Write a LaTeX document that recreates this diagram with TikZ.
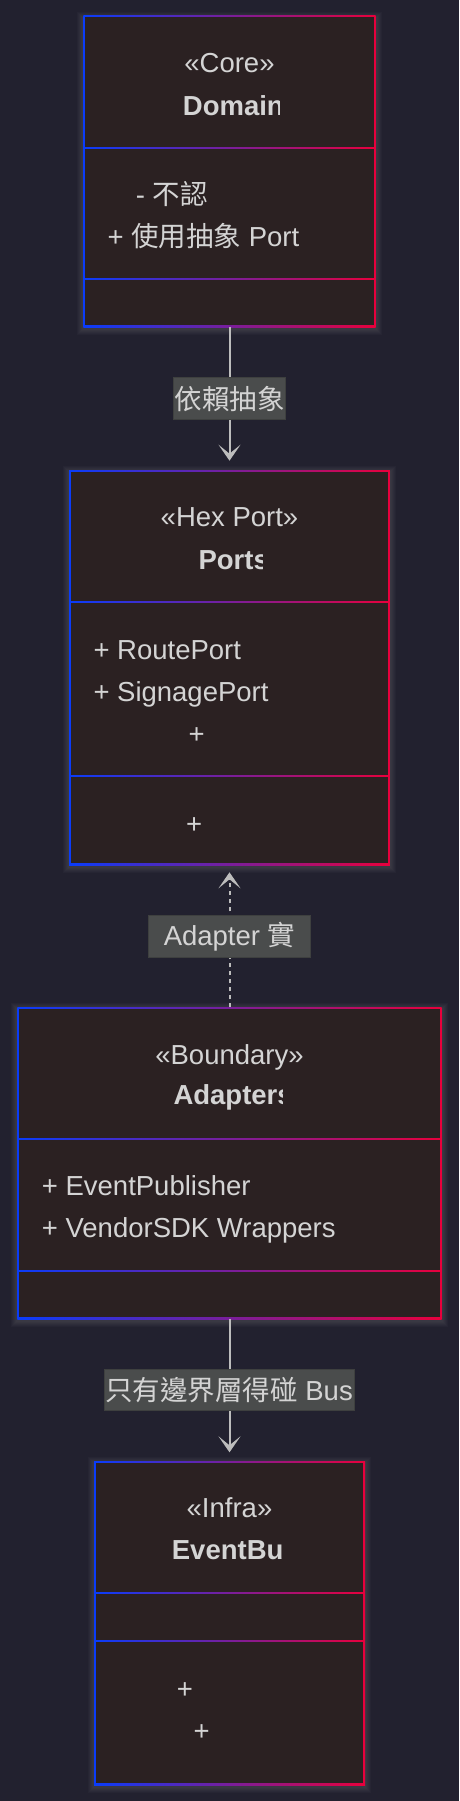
\documentclass[tikz,border=0pt]{standalone}
\usepackage{fontspec}
\setmainfont{Liberation Sans}
\newfontfamily\cjk{Noto Sans CJK TC}
\usetikzlibrary{arrows.meta}
\definecolor{bgc}{HTML}{22212F}
\definecolor{boxfill}{HTML}{2B2122}
\definecolor{cblue}{HTML}{0A3CFA}
\definecolor{cred}{HTML}{E8003C}
\definecolor{txtc}{HTML}{D4D4D4}
\definecolor{linec}{HTML}{BDBDBD}
\definecolor{lblbg}{HTML}{4A4C4C}
\definecolor{lblbd}{HTML}{3E403F}
\newcommand\fsz{\fontsize{27.5pt}{33pt}\selectfont}
\tikzset{
  umlnode/.style={rectangle, inner sep=0pt, outer sep=0pt, draw=none, left color=cblue, right color=cred},
  txt/.style={inner sep=0pt, text=txtc, font=\fsz},
  ttl/.style={inner sep=0pt, text=txtc, font=\fsz\bfseries, anchor=base west},
  lbl/.style={inner sep=0pt, fill=lblbg, draw=lblbd, line width=0.8pt, text=txtc, font=\fsz},
  conn/.style={draw=linec, line width=2pt, -{Stealth[length=16pt,width=22pt,inset=9pt]}},
}
\newcommand\umlbox[6]{%
  \pgfmathsetmacro\ubl{229.5-#2}%
  \pgfmathsetmacro\ubr{229.5+#2}%
  \pgfmathsetmacro\ubh{#4-#3}%
  \pgfmathsetmacro\ubcy{(#3+#4)/2}%
  \pgfmathsetmacro\ubw{2*#2}%
  \foreach \k in {1,...,6} {\fill[white, opacity=0.018] (\ubl-\k, #3-\k+2) rectangle (\ubr+\k, #4+\k+2);}
  \node[umlnode, minimum width=\ubw pt, minimum height=\ubh pt] (#1) at (229.5,\ubcy) {};
  \fill[boxfill] (\ubl+1.8, #3+1.8) rectangle (\ubr-1.8, #5-1);
  \fill[boxfill] (\ubl+1.8, #5+1) rectangle (\ubr-1.8, #6-1);
  \fill[boxfill] (\ubl+1.8, #6+1) rectangle (\ubr-1.8, #4-1.8);
}
\begin{document}
\begin{tikzpicture}[x=1pt, y=-1pt]
\fill[bgc] (0,0) rectangle (459,1801);
\useasboundingbox (0,0) rectangle (459,1801);

% Domain
\umlbox{domain}{146.2}{15.7}{327}{147.7}{279.3}
\node[txt, anchor=base] (domainst) at (229.5,73) {«Core»};
\begin{scope}
  \clip (150,80) rectangle (279.3,140);
  \node[ttl] (domaint) at (182.7,115) {Domain};
\end{scope}
\node[txt, anchor=base west] (domaina1) at (135.7,204.7) {- {\cjk 不認}};
\node[txt, anchor=base west] (domaina2) at (107.3,246.7) {+ {\cjk 使用抽象} Port};

% Ports
\umlbox{ports}{160.35}{470}{865}{601.7}{775.7}
\node[txt, anchor=base] (portsst) at (229.5,526.7) {«Hex Port»};
\begin{scope}
  \clip (150,535) rectangle (262.7,595);
  \node[ttl] (portst) at (198.3,569.3) {Ports};
\end{scope}
\node[txt, anchor=base west] (portsa1) at (93.3,659) {+ RoutePort};
\node[txt, anchor=base west] (portsa2) at (93.3,701.7) {+ SignagePort};
\node[txt, anchor=base west] (portsa3) at (188.3,743.7) {+};
\node[txt, anchor=base west] (portsm1) at (186,833.7) {+};

% Adapters
\umlbox{adapters}{212.2}{1007.3}{1319}{1138.7}{1270.7}
\node[txt, anchor=base] (adaptersst) at (229.5,1064) {«Boundary»};
\begin{scope}
  \clip (150,1070) rectangle (282.5,1130);
  \node[ttl] (adapterst) at (173.3,1104) {Adapters};
\end{scope}
\node[txt, anchor=base west] (adaptersa1) at (41.7,1195.7) {+ EventPublisher};
\node[txt, anchor=base west] (adaptersa2) at (41.7,1237.7) {+ VendorSDK Wrappers};

% EventBus
\umlbox{eventbus}{135.5}{1461}{1785}{1593}{1641}
\node[txt, anchor=base] (eventbusst) at (229.5,1517.3) {«Infra»};
\begin{scope}
  \clip (150,1525) rectangle (283.6,1585);
  \node[ttl] (eventbust) at (171.7,1559.3) {EventBus};
\end{scope}
\node[txt, anchor=base west] (eventbusm1) at (176.7,1698.7) {+};
\node[txt, anchor=base west] (eventbusm2) at (193.3,1740.7) {+};

% connectors
\draw[conn, shorten >=9.3pt] (domain.south) -- (ports.north);
\draw[conn, dash pattern=on 4pt off 4pt, shorten >=7.3pt] (adapters.north) -- (ports.south);
\draw[conn, shorten >=8.7pt] (adapters.south) -- (eventbus.north);

% labels
\node[lbl, minimum width=111.3pt, minimum height=42pt] (lab1) at (229.5,398.7) {{\cjk 依賴抽象}};
\node[lbl, minimum width=162.4pt, minimum height=41.3pt] (lab2) at (229.5,936.3) {Adapter {\cjk 實}};
\node[lbl, minimum width=250pt, minimum height=41.7pt] (lab3) at (229,1389.9) {{\cjk 只有邊界層得碰} Bus};
\end{tikzpicture}
\end{document}
